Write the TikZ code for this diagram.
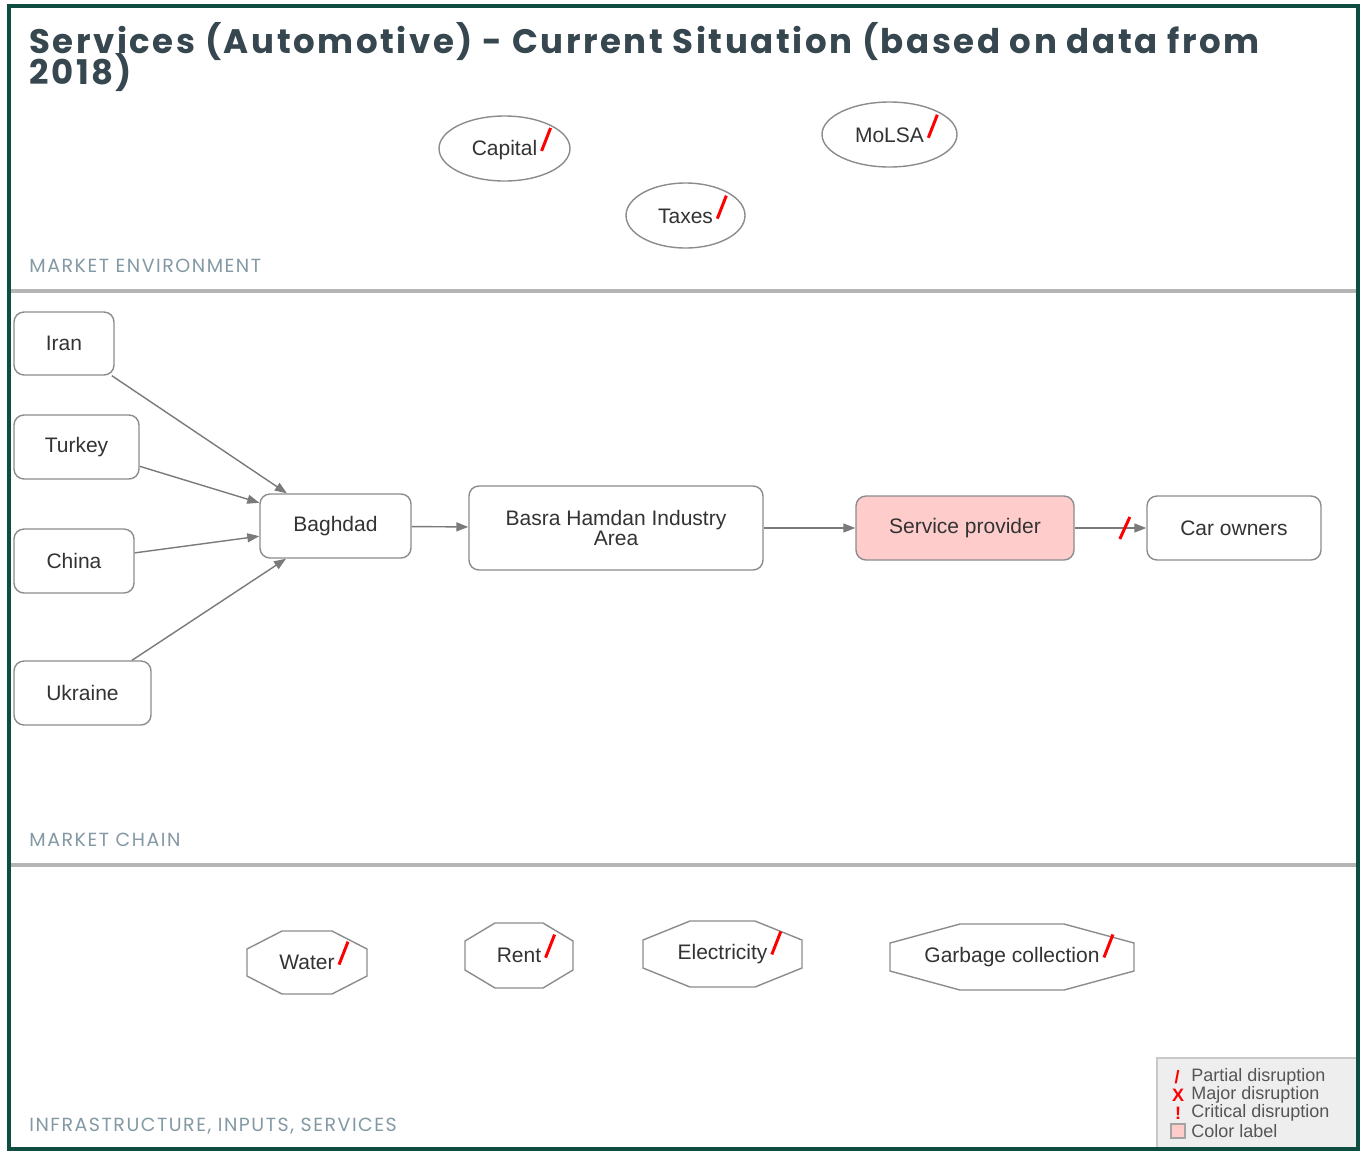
\documentclass[tikz,border=0pt]{standalone}
\usepackage{fontspec}
\setmainfont{Liberation Sans}
\newfontfamily\titlefont{Poppins}[LetterSpace=7.5]
\newfontfamily\secfont{Poppins}[LetterSpace=8.0]
\usetikzlibrary{shapes.geometric,arrows.meta,calc}
\definecolor{framecol}{HTML}{0E4D40}
\definecolor{divcol}{HTML}{B5B5B5}
\definecolor{seccol}{HTML}{8399A4}
\definecolor{titlecol}{HTML}{37474F}
\definecolor{boxgray}{HTML}{8C8C8C}
\definecolor{txtgray}{HTML}{333333}
\definecolor{edgegray}{HTML}{7A7A7A}
\definecolor{pinkfill}{HTML}{FFCCCC}
\definecolor{legfill}{HTML}{EEEEEE}
\definecolor{legline}{HTML}{C8C8C8}
\definecolor{legtxt}{HTML}{555555}
\tikzset{
  nodefont/.style={font=\fontsize{10.5}{10}\selectfont, text=txtgray},
  chainbox/.style={nodefont, draw=boxgray, line width=0.7pt, rounded corners=5pt, fill=white, inner sep=0pt, align=center},
  envell/.style={ellipse, draw=boxgray, line width=0.7pt, inner sep=0pt},
  octline/.style={draw=boxgray, line width=0.7pt},
  txtonly/.style={nodefont, inner sep=0pt},
  edge/.style={draw=edgegray, line width=0.7pt, -{Triangle[length=6pt,width=4.5pt]}},
  redslash/.style={draw=red, line width=1.5pt},
  seclabel/.style={font=\secfont\fontsize{9.5}{10}\selectfont, text=seccol, anchor=base west, inner sep=0pt},
  titlestyle/.style={font=\titlefont\bfseries\fontsize{17}{15}\selectfont, text=titlecol, anchor=base west, inner sep=0pt},
  legtext/.style={font=\fontsize{9}{9}\selectfont, text=legtxt, anchor=west, inner sep=0pt},
  legsym/.style={font=\bfseries\fontsize{9}{9}\selectfont, text=red, inner sep=0pt}
}
\newcommand\pslash[1]{\draw[redslash] ($(#1.base east)+(4,-5)$) -- ++(9,-23);}
\newcommand\octagon[6]{% name, hw, hh, dx, dy
  \draw[octline, shift={(#1.center)}] (-#2+#4,-#3) -- (#2-#4,-#3) -- (#2,-#3+#5) -- (#2,#3-#5) -- (#2-#4,#3) -- (-#2+#4,#3) -- (-#2,#3-#5) -- (-#2,-#3+#5) -- cycle;}
\begin{document}
\begin{tikzpicture}[x=0.5pt,y=-0.5pt]
\useasboundingbox (0,0) rectangle (1361,1153);
\fill[white] (0,0) rectangle (1361,1153);

% title
\node[titlestyle] (t1) at (29,53) {Services (Automotive) - Current Situation (based on data from};
\node[titlestyle] (t2) at (29,84) {2018)};

% dividers
\draw[divcol, line width=2pt] (10,291) -- (1357,291);
\draw[divcol, line width=2pt] (10,865) -- (1357,865);

% section labels
\node[seclabel] (s1) at (29,272) {MARKET ENVIRONMENT};
\node[seclabel] (s2) at (29,846) {MARKET CHAIN};
\node[seclabel] (s3) at (29,1131) {INFRASTRUCTURE, INPUTS, SERVICES};

% market environment
\node[envell, minimum width=65.5pt, minimum height=32.5pt] (capital) at (504.5,148.5) {};
\node[txtonly] (capitalt) at ($(capital)+(0,2)$) {Capital};
\pslash{capitalt}
\node[envell, minimum width=59.5pt, minimum height=32.5pt] (taxes) at (685.5,215.5) {};
\node[txtonly] (taxest) at ($(taxes)+(0,1)$) {Taxes};
\pslash{taxest}
\node[envell, minimum width=67.5pt, minimum height=32.5pt] (molsa) at (889.5,134.5) {};
\node[txtonly] (molsat) at ($(molsa)+(0,1)$) {MoLSA};
\pslash{molsat}

% market chain
\node[chainbox, minimum width=50pt, minimum height=31.5pt] (iran) at (64,343.5) {Iran};
\node[chainbox, minimum width=62.5pt, minimum height=32pt] (turkey) at (76.5,447) {Turkey};
\node[chainbox, minimum width=60pt, minimum height=32pt] (china) at (74,561) {China};
\node[chainbox, minimum width=68.5pt, minimum height=32pt] (ukraine) at (82.5,693) {Ukraine};
\node[chainbox, minimum width=75.5pt, minimum height=32pt] (baghdad) at (335.5,526) {Baghdad};
\node[chainbox, minimum width=147pt, minimum height=42pt] (basra) at (616,528) {Basra Hamdan Industry\\Area};
\node[chainbox, fill=pinkfill, minimum width=109pt, minimum height=32pt] (sp) at (965,528) {Service provider};
\node[chainbox, minimum width=87pt, minimum height=32pt] (car) at (1234,528) {Car owners};

\draw[edge] (iran) -- (baghdad);
\draw[edge] (turkey) -- (baghdad);
\draw[edge] (china) -- (baghdad);
\draw[edge] (ukraine) -- (baghdad);
\draw[edge] (baghdad) -- (basra);
\draw[edge] (basra) -- (sp);
\draw[edge] (sp) -- coordinate[pos=0.70] (sl) (car);
\draw[redslash] ($(sl)+(-5,11)$) -- ($(sl)+(5,-11)$);

% infrastructure
\node[txtonly] (water) at (307,962.5) {Water};
\octagon{water}{60}{31.5}{35}{18}{}
\pslash{water}
\node[txtonly] (rent) at (519,955.5) {Rent};
\octagon{rent}{54}{32.5}{30}{18}{}
\pslash{rent}
\node[txtonly] (elec) at (722.5,954) {Electricity};
\octagon{elec}{79.5}{33}{47}{19}{}
\pslash{elec}
\node[txtonly] (garb) at (1012,957) {Garbage collection};
\octagon{garb}{122}{33}{70}{19}{}
\pslash{garb}

% legend
\draw[fill=legfill, draw=legline, line width=0.6pt] (1157,1058) rectangle (1358,1148);
\node[legsym] (l1s) at (1177,1077) {/};
\node[legtext] (l1) at (1191,1077) {Partial disruption};
\node[legsym] (l2s) at (1178,1095) {X};
\node[legtext] (l2) at (1191,1095) {Major disruption};
\node[legsym] (l3s) at (1178,1113) {!};
\node[legtext] (l3) at (1191,1113) {Critical disruption};
\draw[fill=pinkfill, draw=boxgray!80, line width=0.6pt] (1171,1124) rectangle (1185,1138);
\node[legtext] (l4) at (1191,1131) {Color label};

% frame
\draw[framecol, line width=2pt] (9,6) rectangle (1358,1149);
\end{tikzpicture}
\end{document}
